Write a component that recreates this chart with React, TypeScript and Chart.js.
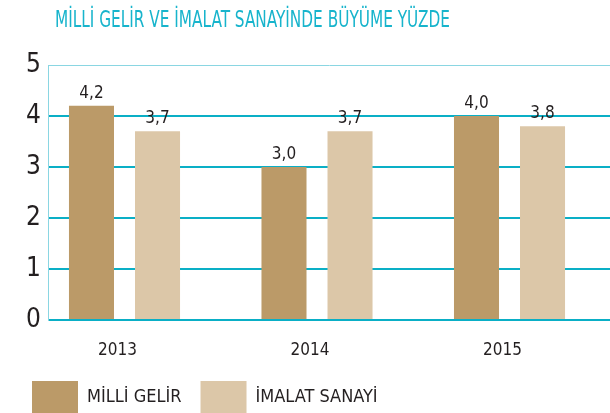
import React, { useEffect, useRef } from "react";
import { Chart, registerables } from "chart.js";

Chart.register(...registerables);

const title = "MİLLİ GELİR VE İMALAT SANAYİNDE BÜYÜME YÜZDE";
const years = ["2013", "2014", "2015"];
const seriesNames = ["MİLLİ GELİR", "İMALAT SANAYİ"];
const milliGelir = [4.2, 3.0, 4.0];
const imalatSanayi = [3.7, 3.7, 3.8];
const yTicks = [0, 1, 2, 3, 4, 5];

const FONT = "'Liberation Sans Narrow', 'DejaVu Sans Condensed', 'Roboto', sans-serif";
const DARK = "#bb9a68";
const LIGHT = "#dcc7a8";
const CYAN = "#0aafc6";
const TEXT = "#231f20";

const fmt = (v: number) => v.toFixed(1).replace(".", ",");

const titlePlugin = {
  id: "customTitle",
  afterDraw(chart: any) {
    const ctx = chart.ctx;
    ctx.save();
    ctx.font = `23px ${FONT}`;
    ctx.fillStyle = "#17b4cc";
    ctx.textAlign = "left";
    ctx.textBaseline = "alphabetic";
    ctx.fillText(title, 55, 27, 395);
    ctx.restore();
  },
};

const valueLabels = {
  id: "valueLabels",
  afterDatasetsDraw(chart: any) {
    const ctx = chart.ctx;
    ctx.save();
    ctx.font = `17px ${FONT}`;
    ctx.fillStyle = TEXT;
    ctx.textAlign = "center";
    ctx.textBaseline = "alphabetic";
    chart.data.datasets.forEach((ds: any, di: number) => {
      const meta = chart.getDatasetMeta(di);
      meta.data.forEach((bar: any, i: number) => {
        ctx.fillText(fmt(ds.data[i].y), bar.x, bar.y - 8);
      });
    });
    ctx.restore();
  },
};

export default function App() {
  const ref = useRef<HTMLCanvasElement | null>(null);

  useEffect(() => {
    document.body.style.margin = "0";
    const chart = new Chart(ref.current as HTMLCanvasElement, {
      type: "bar",
      data: {
        datasets: [
          {
            label: seriesNames[0],
            data: milliGelir.map((y, i) => ({ x: i, y })),
            backgroundColor: DARK,
            borderWidth: 0,
          },
          {
            label: seriesNames[1],
            data: imalatSanayi.map((y, i) => ({ x: i, y })),
            backgroundColor: LIGHT,
            borderWidth: 0,
          },
        ],
      },
      options: {
        animation: false,
        responsive: true,
        maintainAspectRatio: false,
        categoryPercentage: 0.686,
        barPercentage: 0.682,
        layout: { padding: { top: 65, left: 13, right: 0, bottom: 0 } },
        plugins: {
          title: { display: false },
          tooltip: { enabled: false },
          legend: {
            display: true,
            position: "bottom",
            align: "start",
            maxHeight: 51,
            labels: {
              boxWidth: 46,
              boxHeight: 32,
              padding: 19,
              color: TEXT,
              font: { family: FONT, size: 18 },
            },
          },
        },
        scales: {
          x: {
            type: "linear",
            min: -0.3974,
            max: 2.522,
            offset: false,
            grid: { display: false, drawTicks: false },
            border: { display: false },
            afterBuildTicks: (s: any) => {
              s.ticks = years.map((_, i) => ({ value: i }));
            },
            afterFit: (s: any) => {
              s.height = 42;
            },
            ticks: {
              callback: (_v: any, i: number) => years[i],
              color: TEXT,
              font: { family: FONT, size: 17 },
              padding: 20,
              labelOffset: -7,
              maxRotation: 0,
              autoSkip: false,
            },
          },
          y: {
            min: 0,
            max: 5,
            afterBuildTicks: (s: any) => {
              s.ticks = yTicks.map((v) => ({ value: v }));
            },
            afterFit: (s: any) => {
              s.width = 35;
            },
            grid: {
              drawTicks: false,
              color: (c: any) => (c.tick && c.tick.value === 5 ? "#8ad6e2" : CYAN),
              lineWidth: (c: any) => (c.tick && c.tick.value === 5 ? 1 : 2),
            },
            border: { display: true, color: "#8ad6e2", width: 1 },
            ticks: {
              color: TEXT,
              font: { family: FONT, size: 26 },
              padding: 7,
            },
          },
        },
      },
      plugins: [titlePlugin, valueLabels],
    } as any);
    return () => chart.destroy();
  }, []);

  return (
    <div style={{ position: "absolute", left: 0, top: 0, width: 610, height: 413 }}>
      <canvas ref={ref} />
    </div>
  );
}
